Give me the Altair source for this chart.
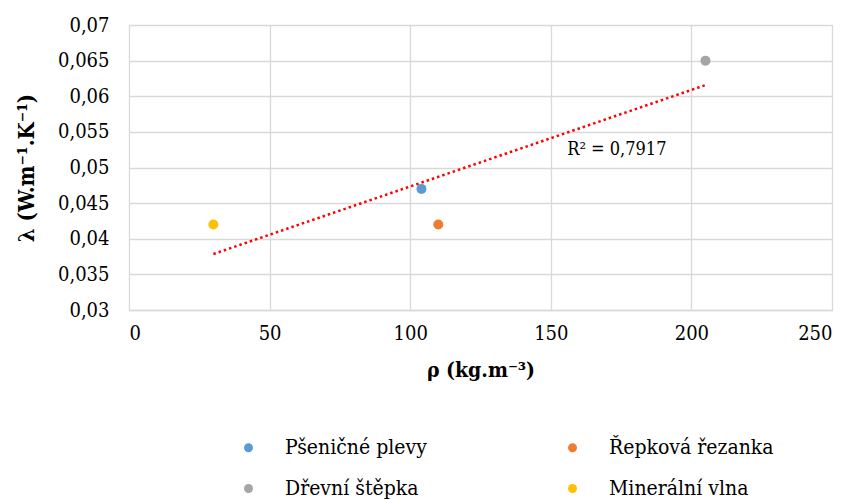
import altair as alt
import pandas as pd

materials = ["Pšeničné plevy", "Řepková řezanka", "Dřevní štěpka", "Minerální vlna"]
density = [104, 110, 205, 30]
conductivity = [0.047, 0.042, 0.065, 0.042]
colors = ["#5B9BD5", "#ED7D31", "#A5A5A5", "#FFC000"]
r2_text = ["R² = 0,7917"]
r2_x = [173.5]
r2_y = [0.0525]
x_ticks = [0, 50, 100, 150, 200, 250]
y_ticks = [0.03, 0.035, 0.04, 0.045, 0.05, 0.055, 0.06, 0.065, 0.07]

df = pd.DataFrame({"material": materials, "rho": density, "lam": conductivity})
df_r2 = pd.DataFrame({"t": r2_text, "rho": r2_x, "lam": r2_y})

FONT = "DejaVu Serif Condensed"

xscale = alt.Scale(domain=[0, 250], nice=False, zero=False)
yscale = alt.Scale(domain=[0.03, 0.07], nice=False, zero=False)

x_axis = alt.Axis(values=x_ticks, title="ρ (kg.m⁻³)", labelFontSize=20,
                  labelPadding=13, titleFontSize=21, titleFontWeight="bold",
                  titlePadding=16, grid=True, gridColor="#D9D9D9", gridWidth=1.3,
                  ticks=False, domain=True, domainColor="#D9D9D9", domainWidth=1.3,
                  labelOverlap=False,
                  labelFont=FONT, titleFont=FONT, labelColor="#000", titleColor="#000")
y_axis = alt.Axis(values=y_ticks, title="λ (W.m⁻¹.K⁻¹)", tickCount=9,
                  labelExpr="replace(format(datum.value, '.3~f'), '.', ',')",
                  labelFontSize=20, labelPadding=20, titleFontSize=22,
                  titleFontWeight="bold", titlePadding=19, grid=True,
                  gridColor="#D9D9D9", gridWidth=1.3, ticks=False, domain=False,
                  labelOverlap=False,
                  labelFont=FONT, titleFont=FONT, labelColor="#000", titleColor="#000")

x_enc = alt.X("rho:Q", scale=xscale, axis=x_axis)
y_enc = alt.Y("lam:Q", scale=yscale, axis=y_axis)

points = alt.Chart(df).mark_circle(size=100, opacity=1).encode(
    x=x_enc,
    y=y_enc,
    color=alt.Color(
        "material:N",
        scale=alt.Scale(domain=materials, range=colors),
        sort=materials,
        legend=alt.Legend(
            title=None, orient="none", legendX=109, legendY=412, columns=2,
            direction="horizontal", symbolSize=80, symbolType="circle",
            labelFontSize=21, labelFont=FONT, labelColor="#000", labelOffset=26,
            columnPadding=135, rowPadding=19, padding=0, labelLimit=400,
        ),
    ),
)

trend = alt.Chart(df).transform_regression("rho", "lam").mark_line(
    color="#FF0000", strokeDash=[2.5, 3], strokeWidth=2.5
).encode(x=x_enc, y=y_enc)

label = alt.Chart(df_r2).mark_text(
    font=FONT, fontSize=18, color="#000", align="center", baseline="middle"
).encode(x=x_enc, y=y_enc, text="t:N")

chart = alt.layer(trend, points, label).properties(
    width=703, height=285,
    autosize=alt.AutoSizeParams(type="none"),
    padding={"left": 121, "top": 17, "right": 11, "bottom": 190},
).configure_view(stroke=None).configure(background="white")

chart.save("out.html", embed_options={"renderer": "svg", "actions": False})
